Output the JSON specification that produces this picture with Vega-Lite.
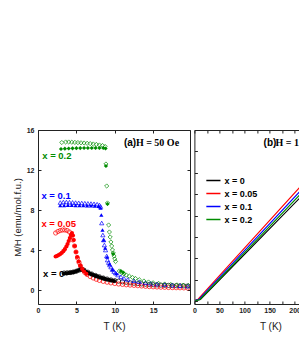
{
  "$schema": "https://vega.github.io/schema/vega-lite/v6.json",
  "padding": {"left": 12, "top": 126, "right": 0, "bottom": 0},
  "background": "white",
  "config": {
    "view": {"stroke": null},
    "axis": {"domainColor": "#222", "tickColor": "#222", "tickSize": -3, "labelFont": "Liberation Sans", "labelFontSize": 7, "labelFontWeight": "bold", "labelColor": "#222", "titleFont": "Liberation Sans", "titleFontWeight": "normal", "titleColor": "#222", "grid": false, "labelFlush": false},
    "point": {"size": 18, "strokeWidth": 0.7, "opacity": 1}
  },
  "datasets": {
    "a": [
      {"s":"0","m":"o","T":3.4,"M":1.7},{"s":"0","m":"o","T":3.8,"M":1.72},{"s":"0","m":"o","T":4.2,"M":1.75},{"s":"0","m":"o","T":4.6,"M":1.8},{"s":"0","m":"o","T":5.0,"M":1.88},{"s":"0","m":"o","T":5.4,"M":2.0},{"s":"0","m":"o","T":5.7,"M":2.1},{"s":"0","m":"o","T":6.0,"M":1.98},{"s":"0","m":"o","T":6.5,"M":1.78},{"s":"0","m":"o","T":7.0,"M":1.6},{"s":"0","m":"o","T":7.5,"M":1.45},{"s":"0","m":"o","T":8.0,"M":1.32},{"s":"0","m":"o","T":8.5,"M":1.2},{"s":"0","m":"o","T":9.0,"M":1.1},{"s":"0","m":"o","T":9.5,"M":1.01},{"s":"0","m":"o","T":10.0,"M":0.94},{"s":"0","m":"o","T":10.5,"M":0.88},{"s":"0","m":"o","T":11.0,"M":0.82},{"s":"0","m":"o","T":11.5,"M":0.77},{"s":"0","m":"o","T":12.0,"M":0.72},{"s":"0","m":"o","T":12.5,"M":0.68},{"s":"0","m":"o","T":13.0,"M":0.64},{"s":"0","m":"o","T":13.5,"M":0.61},{"s":"0","m":"o","T":14.0,"M":0.58},{"s":"0","m":"o","T":14.5,"M":0.55},{"s":"0","m":"o","T":15.0,"M":0.53},{"s":"0","m":"o","T":15.5,"M":0.51},{"s":"0","m":"o","T":16.0,"M":0.49},{"s":"0","m":"o","T":16.5,"M":0.47},{"s":"0","m":"o","T":17.0,"M":0.46},{"s":"0","m":"o","T":17.5,"M":0.44},{"s":"0","m":"o","T":18.0,"M":0.43},{"s":"0","m":"o","T":18.5,"M":0.42},{"s":"0","m":"o","T":19.0,"M":0.41},{"s":"0","m":"o","T":19.5,"M":0.4},
      {"s":"0","m":"f","T":3.4,"M":1.65},{"s":"0","m":"f","T":3.7,"M":1.67},{"s":"0","m":"f","T":4.0,"M":1.7},{"s":"0","m":"f","T":4.3,"M":1.73},{"s":"0","m":"f","T":4.6,"M":1.78},{"s":"0","m":"f","T":4.9,"M":1.85},{"s":"0","m":"f","T":5.2,"M":1.94},{"s":"0","m":"f","T":5.5,"M":2.04},{"s":"0","m":"f","T":5.7,"M":2.05},{"s":"0","m":"f","T":6.0,"M":1.93},{"s":"0","m":"f","T":6.3,"M":1.8},{"s":"0","m":"f","T":6.6,"M":1.69},{"s":"0","m":"f","T":6.9,"M":1.59},{"s":"0","m":"f","T":7.2,"M":1.5},{"s":"0","m":"f","T":7.5,"M":1.41},{"s":"0","m":"f","T":7.8,"M":1.33},{"s":"0","m":"f","T":8.1,"M":1.25},{"s":"0","m":"f","T":8.4,"M":1.18},{"s":"0","m":"f","T":8.7,"M":1.11},{"s":"0","m":"f","T":9.0,"M":1.05},{"s":"0","m":"f","T":9.3,"M":1.0},{"s":"0","m":"f","T":9.6,"M":0.95},{"s":"0","m":"f","T":9.9,"M":0.9},
      {"s":"0.05","m":"o","T":2.3,"M":5.7},{"s":"0.05","m":"o","T":2.6,"M":5.85},{"s":"0.05","m":"o","T":2.9,"M":5.95},{"s":"0.05","m":"o","T":3.2,"M":6.0},{"s":"0.05","m":"o","T":3.5,"M":6.0},{"s":"0.05","m":"o","T":3.8,"M":5.95},{"s":"0.05","m":"o","T":4.1,"M":5.8},{"s":"0.05","m":"o","T":4.35,"M":5.5},{"s":"0.05","m":"o","T":4.55,"M":5.0},{"s":"0.05","m":"o","T":4.75,"M":4.4},{"s":"0.05","m":"o","T":4.95,"M":3.8},{"s":"0.05","m":"o","T":5.15,"M":3.2},{"s":"0.05","m":"o","T":5.35,"M":2.75},{"s":"0.05","m":"o","T":5.55,"M":2.4},{"s":"0.05","m":"o","T":5.8,"M":2.05},{"s":"0.05","m":"o","T":6.1,"M":1.75},{"s":"0.05","m":"o","T":6.4,"M":1.55},{"s":"0.05","m":"o","T":6.8,"M":1.35},{"s":"0.05","m":"o","T":7.2,"M":1.2},{"s":"0.05","m":"o","T":7.6,"M":1.07},{"s":"0.05","m":"o","T":8.0,"M":0.96},{"s":"0.05","m":"o","T":8.5,"M":0.86},{"s":"0.05","m":"o","T":9.0,"M":0.78},{"s":"0.05","m":"o","T":9.5,"M":0.71},{"s":"0.05","m":"o","T":10.0,"M":0.65},{"s":"0.05","m":"o","T":10.5,"M":0.6},{"s":"0.05","m":"o","T":11.0,"M":0.56},{"s":"0.05","m":"o","T":11.5,"M":0.52},{"s":"0.05","m":"o","T":12.0,"M":0.49},{"s":"0.05","m":"o","T":12.5,"M":0.46},{"s":"0.05","m":"o","T":13.0,"M":0.43},{"s":"0.05","m":"o","T":13.5,"M":0.4},{"s":"0.05","m":"o","T":14.0,"M":0.37},{"s":"0.05","m":"o","T":14.5,"M":0.34},{"s":"0.05","m":"o","T":15.0,"M":0.32},{"s":"0.05","m":"o","T":15.5,"M":0.3},{"s":"0.05","m":"o","T":16.0,"M":0.28},{"s":"0.05","m":"o","T":16.5,"M":0.27},{"s":"0.05","m":"o","T":17.0,"M":0.25},{"s":"0.05","m":"o","T":17.5,"M":0.24},{"s":"0.05","m":"o","T":18.0,"M":0.23},{"s":"0.05","m":"o","T":18.5,"M":0.22},{"s":"0.05","m":"o","T":19.0,"M":0.21},{"s":"0.05","m":"o","T":19.5,"M":0.2},
      {"s":"0.05","m":"f","T":2.3,"M":3.35},{"s":"0.05","m":"f","T":2.5,"M":3.42},{"s":"0.05","m":"f","T":2.7,"M":3.5},{"s":"0.05","m":"f","T":2.9,"M":3.6},{"s":"0.05","m":"f","T":3.1,"M":3.72},{"s":"0.05","m":"f","T":3.3,"M":3.88},{"s":"0.05","m":"f","T":3.5,"M":4.08},{"s":"0.05","m":"f","T":3.7,"M":4.35},{"s":"0.05","m":"f","T":3.85,"M":4.6},{"s":"0.05","m":"f","T":4.0,"M":4.9},{"s":"0.05","m":"f","T":4.15,"M":5.2},{"s":"0.05","m":"f","T":4.3,"M":5.5},{"s":"0.05","m":"f","T":4.42,"M":5.7},{"s":"0.05","m":"f","T":4.55,"M":5.45},{"s":"0.05","m":"f","T":4.65,"M":5.0},{"s":"0.05","m":"f","T":4.8,"M":4.4},{"s":"0.05","m":"f","T":4.95,"M":3.8},{"s":"0.05","m":"f","T":5.1,"M":3.3},{"s":"0.05","m":"f","T":5.3,"M":2.85},{"s":"0.05","m":"f","T":5.5,"M":2.45},{"s":"0.05","m":"f","T":5.75,"M":2.1},{"s":"0.05","m":"f","T":6.0,"M":1.85},{"s":"0.05","m":"f","T":6.3,"M":1.62},
      {"s":"0.1","m":"o","T":2.9,"M":8.75},{"s":"0.1","m":"o","T":3.3,"M":8.8},{"s":"0.1","m":"o","T":3.7,"M":8.8},{"s":"0.1","m":"o","T":4.1,"M":8.78},{"s":"0.1","m":"o","T":4.5,"M":8.76},{"s":"0.1","m":"o","T":4.9,"M":8.74},{"s":"0.1","m":"o","T":5.3,"M":8.72},{"s":"0.1","m":"o","T":5.7,"M":8.7},{"s":"0.1","m":"o","T":6.1,"M":8.68},{"s":"0.1","m":"o","T":6.5,"M":8.66},{"s":"0.1","m":"o","T":6.9,"M":8.64},{"s":"0.1","m":"o","T":7.3,"M":8.62},{"s":"0.1","m":"o","T":7.7,"M":8.58},{"s":"0.1","m":"o","T":8.0,"M":8.5},{"s":"0.1","m":"o","T":8.15,"M":8.35},{"s":"0.1","m":"o","T":8.3,"M":6.7},{"s":"0.1","m":"o","T":8.45,"M":5.5},{"s":"0.1","m":"o","T":8.55,"M":5.0},{"s":"0.1","m":"o","T":8.65,"M":4.5},{"s":"0.1","m":"o","T":8.8,"M":4.0},{"s":"0.1","m":"o","T":8.95,"M":3.4},{"s":"0.1","m":"o","T":9.05,"M":3.0},{"s":"0.1","m":"o","T":9.2,"M":2.75},{"s":"0.1","m":"o","T":9.35,"M":2.5},{"s":"0.1","m":"o","T":9.5,"M":2.3},{"s":"0.1","m":"o","T":9.7,"M":2.05},{"s":"0.1","m":"o","T":9.9,"M":1.85},{"s":"0.1","m":"o","T":10.1,"M":1.7},{"s":"0.1","m":"o","T":10.4,"M":1.5},{"s":"0.1","m":"o","T":10.8,"M":1.33},{"s":"0.1","m":"o","T":11.2,"M":1.17},{"s":"0.1","m":"o","T":11.7,"M":1.05},{"s":"0.1","m":"o","T":12.5,"M":0.93},{"s":"0.1","m":"o","T":13.2,"M":0.83},{"s":"0.1","m":"o","T":14.0,"M":0.74},{"s":"0.1","m":"o","T":14.7,"M":0.67},{"s":"0.1","m":"o","T":15.5,"M":0.6},{"s":"0.1","m":"o","T":16.5,"M":0.54},{"s":"0.1","m":"o","T":17.5,"M":0.49},{"s":"0.1","m":"o","T":18.5,"M":0.44},{"s":"0.1","m":"o","T":19.5,"M":0.4},
      {"s":"0.1","m":"f","T":2.9,"M":8.45},{"s":"0.1","m":"f","T":3.4,"M":8.47},{"s":"0.1","m":"f","T":3.9,"M":8.48},{"s":"0.1","m":"f","T":4.4,"M":8.48},{"s":"0.1","m":"f","T":4.9,"M":8.47},{"s":"0.1","m":"f","T":5.4,"M":8.46},{"s":"0.1","m":"f","T":5.9,"M":8.45},{"s":"0.1","m":"f","T":6.4,"M":8.44},{"s":"0.1","m":"f","T":6.9,"M":8.43},{"s":"0.1","m":"f","T":7.4,"M":8.42},{"s":"0.1","m":"f","T":7.9,"M":8.38},{"s":"0.1","m":"f","T":8.15,"M":8.2},{"s":"0.1","m":"f","T":8.25,"M":7.5},{"s":"0.1","m":"f","T":8.4,"M":6.0},{"s":"0.1","m":"f","T":8.55,"M":5.0},{"s":"0.1","m":"f","T":8.75,"M":4.2},{"s":"0.1","m":"f","T":9.0,"M":3.3},{"s":"0.1","m":"f","T":9.3,"M":2.6},{"s":"0.1","m":"f","T":9.7,"M":2.05},{"s":"0.1","m":"f","T":10.2,"M":1.65},
      {"s":"0.2","m":"o","T":3.1,"M":14.75},{"s":"0.2","m":"o","T":3.6,"M":14.8},{"s":"0.2","m":"o","T":4.0,"M":14.8},{"s":"0.2","m":"o","T":4.4,"M":14.78},{"s":"0.2","m":"o","T":4.8,"M":14.76},{"s":"0.2","m":"o","T":5.2,"M":14.74},{"s":"0.2","m":"o","T":5.6,"M":14.72},{"s":"0.2","m":"o","T":6.0,"M":14.7},{"s":"0.2","m":"o","T":6.4,"M":14.67},{"s":"0.2","m":"o","T":6.8,"M":14.64},{"s":"0.2","m":"o","T":7.2,"M":14.6},{"s":"0.2","m":"o","T":7.6,"M":14.56},{"s":"0.2","m":"o","T":8.0,"M":14.5},{"s":"0.2","m":"o","T":8.4,"M":14.45},{"s":"0.2","m":"o","T":8.75,"M":14.35},{"s":"0.2","m":"o","T":8.85,"M":12.6},{"s":"0.2","m":"o","T":8.95,"M":10.4},{"s":"0.2","m":"o","T":9.05,"M":8.7},{"s":"0.2","m":"o","T":9.2,"M":6.5},{"s":"0.2","m":"o","T":9.3,"M":5.8},{"s":"0.2","m":"o","T":9.4,"M":5.3},{"s":"0.2","m":"o","T":9.5,"M":4.8},{"s":"0.2","m":"o","T":9.6,"M":4.4},{"s":"0.2","m":"o","T":9.7,"M":4.0},{"s":"0.2","m":"o","T":9.8,"M":3.7},{"s":"0.2","m":"o","T":9.9,"M":3.4},{"s":"0.2","m":"o","T":10.0,"M":3.1},{"s":"0.2","m":"o","T":10.1,"M":2.85},{"s":"0.2","m":"o","T":10.6,"M":1.9},{"s":"0.2","m":"o","T":10.9,"M":1.75},{"s":"0.2","m":"o","T":11.2,"M":1.62},{"s":"0.2","m":"o","T":11.5,"M":1.5},{"s":"0.2","m":"o","T":11.9,"M":1.38},{"s":"0.2","m":"o","T":12.3,"M":1.26},{"s":"0.2","m":"o","T":12.7,"M":1.15},{"s":"0.2","m":"o","T":13.2,"M":1.03},{"s":"0.2","m":"o","T":13.8,"M":0.9},{"s":"0.2","m":"o","T":14.4,"M":0.8},{"s":"0.2","m":"o","T":15.0,"M":0.72},{"s":"0.2","m":"o","T":15.7,"M":0.66},{"s":"0.2","m":"o","T":16.5,"M":0.6},{"s":"0.2","m":"o","T":17.3,"M":0.55},{"s":"0.2","m":"o","T":18.1,"M":0.51},{"s":"0.2","m":"o","T":18.9,"M":0.48},{"s":"0.2","m":"o","T":19.6,"M":0.45},
      {"s":"0.2","m":"f","T":3.0,"M":14.1},{"s":"0.2","m":"f","T":3.5,"M":14.13},{"s":"0.2","m":"f","T":4.0,"M":14.15},{"s":"0.2","m":"f","T":4.5,"M":14.17},{"s":"0.2","m":"f","T":5.0,"M":14.18},{"s":"0.2","m":"f","T":5.5,"M":14.19},{"s":"0.2","m":"f","T":6.0,"M":14.2},{"s":"0.2","m":"f","T":6.5,"M":14.2},{"s":"0.2","m":"f","T":7.0,"M":14.2},{"s":"0.2","m":"f","T":7.5,"M":14.2},{"s":"0.2","m":"f","T":8.0,"M":14.2},{"s":"0.2","m":"f","T":8.5,"M":14.2},{"s":"0.2","m":"f","T":8.8,"M":14.15},{"s":"0.2","m":"f","T":8.85,"M":12.4},{"s":"0.2","m":"f","T":9.05,"M":8.6},{"s":"0.2","m":"f","T":9.8,"M":3.6},{"s":"0.2","m":"f","T":10.8,"M":1.9},{"s":"0.2","m":"f","T":11.1,"M":1.75}
    ],
    "labA": [
      {"txt":"x = 0.2","s":"0.2","T":0.55,"M":13.4},
      {"txt":"x = 0.1","s":"0.1","T":0.44,"M":9.4},
      {"txt":"x = 0.05","s":"0.05","T":0.44,"M":6.6},
      {"txt":"x = 0","s":"0","T":0.65,"M":1.6}
    ],
    "b": [
      {"s":"0","T":2,"M":0.02},{"s":"0","T":12,"M":0.07},{"s":"0","T":211.5,"M":4.85},
      {"s":"0.05","T":2,"M":0.04},{"s":"0.05","T":7,"M":0.08},{"s":"0.05","T":211.5,"M":5.35},
      {"s":"0.1","T":2,"M":0.03},{"s":"0.1","T":9,"M":0.08},{"s":"0.1","T":211.5,"M":5.15},
      {"s":"0.2","T":2,"M":0.02},{"s":"0.2","T":11,"M":0.07},{"s":"0.2","T":211.5,"M":5.0}
    ]
  },
  "spacing": 1.4,
  "resolve": {"scale": {"color": "independent", "shape": "independent"}, "legend": {"color": "independent", "shape": "independent"}},
  "hconcat": [
    {
      "width": 152,
      "height": 174,
      "resolve": {"axis": {"x": "independent", "y": "independent"}},
      "layer": [
        {
          "data": {"name": "a"},
          "transform": [{"filter": "datum.m === 'o'"}],
          "mark": {"type": "point", "filled": false, "clip": true},
          "encoding": {
            "x": {"field": "T", "type": "quantitative", "scale": {"domain": [0, 19.8], "nice": false, "zero": false},
                  "axis": {"orient": "bottom", "values": [0, 5, 10, 15], "labelPadding": 5.5, "title": "T (K)", "titleFontSize": 10, "titlePadding": 8}},
            "y": {"field": "M", "type": "quantitative", "scale": {"domain": [-1.4, 16], "nice": false, "zero": false},
                  "axis": {"orient": "left", "values": [0, 4, 8, 12, 16], "labelPadding": 7, "title": "M/H (emu/mol.f.u.)", "titleFontSize": 9.5, "titlePadding": 3.5}},
            "color": {"field": "s", "type": "nominal", "scale": {"domain": ["0", "0.05", "0.1", "0.2"], "range": ["#000000", "#ff0000", "#0000ff", "#008c00"]}, "legend": null},
            "shape": {"field": "s", "type": "nominal", "scale": {"domain": ["0", "0.05", "0.1", "0.2"], "range": ["circle", "circle", "triangle-up", "diamond"]}, "legend": null}
          }
        },
        {
          "data": {"name": "a"},
          "transform": [{"filter": "datum.m === 'f'"}],
          "mark": {"type": "point", "filled": true, "clip": true},
          "encoding": {
            "x": {"field": "T", "type": "quantitative", "axis": {"orient": "top", "values": [0, 5, 10, 15], "labels": false, "title": null}},
            "y": {"field": "M", "type": "quantitative", "axis": {"orient": "right", "values": [0, 4, 8, 12, 16], "labels": false, "title": null}},
            "color": {"field": "s", "type": "nominal", "legend": null},
            "shape": {"field": "s", "type": "nominal", "legend": null}
          }
        },
        {
          "data": {"name": "labA"},
          "mark": {"type": "text", "align": "left", "baseline": "middle", "font": "Liberation Sans", "fontWeight": "bold", "fontSize": 9.5},
          "encoding": {
            "x": {"field": "T", "type": "quantitative", "axis": null},
            "y": {"field": "M", "type": "quantitative", "axis": null},
            "text": {"field": "txt"},
            "color": {"field": "s", "type": "nominal", "legend": null}
          }
        },
        {
          "data": {"values": [{"txt": "(a)", "T": 11.2, "M": 14.7}]},
          "mark": {"type": "text", "align": "left", "baseline": "middle", "font": "Liberation Sans", "fontWeight": "bold", "fontSize": 10, "color": "#000"},
          "encoding": {
            "x": {"field": "T", "type": "quantitative", "axis": null},
            "y": {"field": "M", "type": "quantitative", "axis": null},
            "text": {"field": "txt"}
          }
        },
        {
          "data": {"values": [{"txt": "H = 50 Oe", "T": 12.75, "M": 14.7}]},
          "mark": {"type": "text", "align": "left", "baseline": "middle", "font": "Liberation Serif", "fontWeight": "bold", "fontSize": 10, "color": "#000"},
          "encoding": {
            "x": {"field": "T", "type": "quantitative", "axis": null},
            "y": {"field": "M", "type": "quantitative", "axis": null},
            "text": {"field": "txt"}
          }
        }
      ]
    },
    {
      "width": 106,
      "height": 174,
      "resolve": {"axis": {"x": "independent", "y": "independent"}},
      "layer": [
        {
          "data": {"name": "b"},
          "mark": {"type": "line", "strokeWidth": 1.2, "clip": true},
          "encoding": {
            "x": {"field": "T", "type": "quantitative", "scale": {"domain": [0, 211.5], "nice": false, "zero": false},
                  "axis": {"orient": "bottom", "values": [0, 25, 50, 75, 100, 125, 150, 175, 200], "labelExpr": "datum.value % 50 === 0 ? datum.label : ''", "labelPadding": 5.5, "title": "T (K)", "titleFontSize": 10, "titlePadding": 8, "titleX": 76}},
            "y": {"field": "M", "type": "quantitative", "scale": {"domain": [-0.14, 8], "nice": false, "zero": false},
                  "axis": {"orient": "left", "values": [0, 1, 2, 3, 4, 5, 6, 7, 8], "labels": false, "title": null}},
            "color": {"field": "s", "type": "nominal", "scale": {"domain": ["0", "0.05", "0.1", "0.2"], "range": ["#000000", "#ff0000", "#0000ff", "#008c00"]},
                      "legend": {"orient": "none", "legendX": 11, "legendY": 42.5, "title": null, "symbolType": "stroke", "symbolSize": 200, "symbolStrokeWidth": 1.5, "labelFont": "Liberation Sans", "labelFontWeight": "bold", "labelFontSize": 9, "labelColor": "#000", "labelOffset": 3, "rowPadding": -3.8, "labelExpr": "'x = ' + datum.label"}}
          }
        },
        {
          "data": {"values": [{"txt": "(b)", "T": 138, "M": 7.38}]},
          "mark": {"type": "text", "align": "left", "baseline": "middle", "font": "Liberation Sans", "fontWeight": "bold", "fontSize": 10, "color": "#000", "clip": true},
          "encoding": {
            "x": {"field": "T", "type": "quantitative", "axis": {"orient": "top", "values": [0, 25, 50, 75, 100, 125, 150, 175, 200], "labels": false, "title": null}},
            "y": {"field": "M", "type": "quantitative", "axis": null},
            "text": {"field": "txt"}
          }
        },
        {
          "data": {"values": [{"txt": "H = 10 kOe", "T": 162, "M": 7.38}]},
          "mark": {"type": "text", "align": "left", "baseline": "middle", "font": "Liberation Serif", "fontWeight": "bold", "fontSize": 10, "color": "#000", "clip": true},
          "encoding": {
            "x": {"field": "T", "type": "quantitative", "axis": null},
            "y": {"field": "M", "type": "quantitative", "axis": null},
            "text": {"field": "txt"}
          }
        }
      ]
    }
  ]
}
